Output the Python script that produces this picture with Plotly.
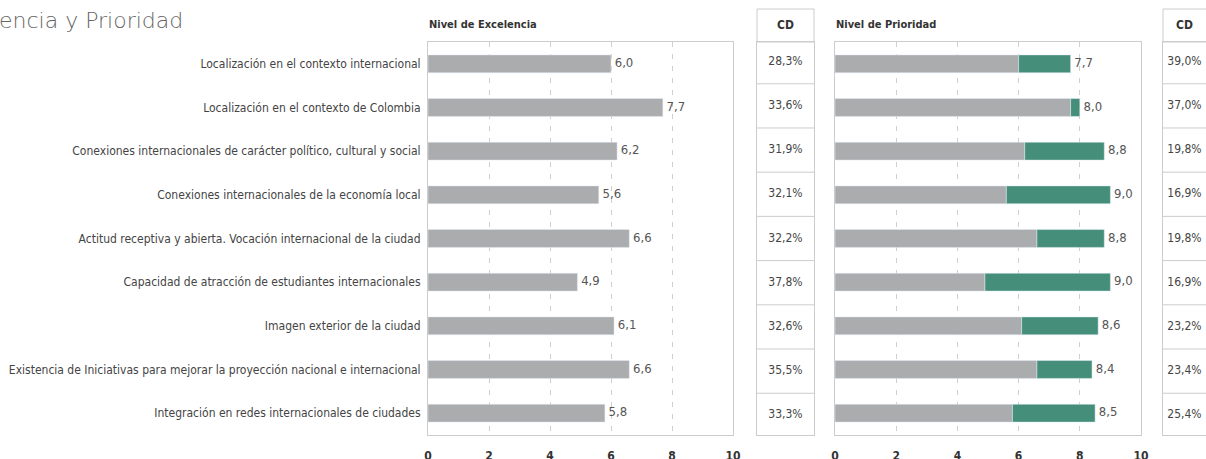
import plotly.graph_objects as go

W, H = 1206, 459

categorias = [
    "Localización en el contexto internacional",
    "Localización en el contexto de Colombia",
    "Conexiones internacionales de carácter político, cultural y social",
    "Conexiones internacionales de la economía local",
    "Actitud receptiva y abierta. Vocación internacional de la ciudad",
    "Capacidad de atracción de estudiantes internacionales",
    "Imagen exterior de la ciudad",
    "Existencia de Iniciativas para mejorar la proyección nacional e internacional",
    "Integración en redes internacionales de ciudades",
]
excelencia = [6.0, 7.7, 6.2, 5.6, 6.6, 4.9, 6.1, 6.6, 5.8]
cd_excelencia = [28.3, 33.6, 31.9, 32.1, 32.2, 37.8, 32.6, 35.5, 33.3]
prioridad = [7.7, 8.0, 8.8, 9.0, 8.8, 9.0, 8.6, 8.4, 8.5]
cd_prioridad = [39.0, 37.0, 19.8, 16.9, 19.8, 16.9, 23.2, 23.4, 25.4]
x_ticks = [0, 2, 4, 6, 8, 10]

GRAY = "#abacae"
GREEN = "#458f7a"
LINE = "#cccccc"
COND = "DejaVu Sans Condensed, Liberation Sans Narrow, sans-serif"


def fmt(v, pct=False):
    s = f"{v:.1f}".replace(".", ",")
    return s + "%" if pct else s


def px(x):
    return x / W


def py(y):
    return 1 - y / H


fig = go.Figure()

# Left panel: excelencia
fig.add_trace(go.Bar(orientation="h", y=categorias, x=excelencia, marker_color=GRAY,
                     width=0.41, xaxis="x", yaxis="y", hoverinfo="skip"))
fig.add_trace(go.Scatter(mode="text", y=categorias, x=excelencia,
                         text=["\u00a0" + fmt(v) for v in excelencia], textposition="middle right",
                         textfont=dict(family=COND, size=13, color="#555555"),
                         xaxis="x", yaxis="y", hoverinfo="skip"))

# CD column 1
fig.add_trace(go.Scatter(mode="text", y=categorias, x=[0.5] * len(categorias),
                         text=[fmt(v, True) for v in cd_excelencia], textposition="middle center",
                         textfont=dict(family=COND, size=12, color="#444444"),
                         xaxis="x3", yaxis="y3", hoverinfo="skip"))

# Right panel: prioridad (gray = excelencia, green = brecha hasta prioridad)
fig.add_trace(go.Bar(orientation="h", y=categorias, x=excelencia, marker_color=GRAY,
                     width=0.41, xaxis="x2", yaxis="y2", hoverinfo="skip"))
fig.add_trace(go.Bar(orientation="h", y=categorias,
                     x=[p - e for p, e in zip(prioridad, excelencia)],
                     base=excelencia, marker_color=GREEN,
                     width=0.41, xaxis="x2", yaxis="y2", hoverinfo="skip"))
fig.add_trace(go.Scatter(mode="text", y=categorias, x=prioridad,
                         text=["\u00a0" + fmt(v) for v in prioridad], textposition="middle right",
                         textfont=dict(family=COND, size=13, color="#555555"),
                         xaxis="x2", yaxis="y2", hoverinfo="skip"))

# CD column 2
fig.add_trace(go.Scatter(mode="text", y=categorias, x=[0.5] * len(categorias),
                         text=[fmt(v, True) for v in cd_prioridad], textposition="middle center",
                         textfont=dict(family=COND, size=12, color="#444444"),
                         xaxis="x4", yaxis="y4", hoverinfo="skip"))

ydom = [py(435), py(42)]

xpanel = dict(range=[0, 10], tickvals=x_ticks, ticktext=[str(t) for t in x_ticks],
              showgrid=True, gridcolor="#cfcfcf", griddash="5px,7px", gridwidth=1,
              zeroline=False, showline=True, mirror=True, linecolor=LINE, linewidth=1,
              ticks="outside", ticklen=10, tickcolor="rgba(0,0,0,0)",
              tickfont=dict(family=COND, size=12, color="#333333", weight="bold"),
              automargin=False, fixedrange=True)
xcd = dict(range=[0, 1], showgrid=False, zeroline=False, showticklabels=False,
           showline=True, mirror=True, linecolor=LINE, linewidth=1, automargin=False)
ybase = dict(type="category", categoryarray=categorias, autorange="reversed",
             showgrid=False, zeroline=False, domain=ydom, automargin=False,
             showline=True, mirror=True, linecolor=LINE, linewidth=1)

fig.update_layout(
    width=W, height=H, margin=dict(l=0, r=0, t=0, b=0),
    paper_bgcolor="white", plot_bgcolor="white",
    showlegend=False, barmode="overlay",
    xaxis=dict(domain=[px(428), px(733)], anchor="y", **xpanel),
    xaxis2=dict(domain=[px(835), px(1141)], anchor="y2", **xpanel),
    xaxis3=dict(domain=[px(757), px(814)], anchor="y3", **xcd),
    xaxis4=dict(domain=[px(1163), 1.0], anchor="y4", **xcd),
    yaxis=dict(anchor="x", showticklabels=True, ticks="", ticklabelstandoff=4,
               tickfont=dict(family=COND, size=12, color="#444444"), **ybase),
    yaxis2=dict(anchor="x2", showticklabels=False, **ybase),
    yaxis3=dict(anchor="x3", showticklabels=False, **ybase),
    yaxis4=dict(anchor="x4", showticklabels=False, **{**ybase, "mirror": False}),
)

shapes = []
for xr, yr in (("x3", "y3"), ("x4", "y4")):
    for i in range(len(categorias) - 1):
        shapes.append(dict(type="line", xref=f"{xr} domain", yref=yr,
                           x0=0, x1=1, y0=i + 0.5, y1=i + 0.5,
                           line=dict(color=LINE, width=1)))
shapes.append(dict(type="rect", xref="x3 domain", yref="paper", x0=0, x1=1,
                   y0=py(42), y1=py(9), line=dict(color=LINE, width=1)))
shapes.append(dict(type="rect", xref="x4 domain", yref="paper", x0=0, x1=1.5,
                   y0=py(42), y1=py(9), line=dict(color=LINE, width=1)))
fig.update_layout(shapes=shapes)

HEAD = dict(family=COND, size=11, color="#333333")
annotations = [
    dict(text="encia y Prioridad", xref="paper", yref="paper", x=px(-3), y=py(20),
         xanchor="left", yanchor="middle", showarrow=False,
         font=dict(family="DejaVu Sans, sans-serif", size=22, color="#666666", weight=200)),
    dict(text="<b>Nivel de Excelencia</b>", xref="paper", yref="paper", x=px(427), y=py(25),
         xanchor="left", yanchor="middle", showarrow=False, font=HEAD),
    dict(text="<b>Nivel de Prioridad</b>", xref="paper", yref="paper", x=px(834), y=py(25),
         xanchor="left", yanchor="middle", showarrow=False, font=HEAD),
    dict(text="<b>CD</b>", xref="x3 domain", yref="paper", x=0.5, y=py(25),
         xanchor="center", yanchor="middle", showarrow=False, font=dict(HEAD, size=12)),
    dict(text="<b>CD</b>", xref="x4 domain", yref="paper", x=0.5, y=py(25),
         xanchor="center", yanchor="middle", showarrow=False, font=dict(HEAD, size=12)),
]
fig.update_layout(annotations=annotations)

fig.write_html("out.html")
